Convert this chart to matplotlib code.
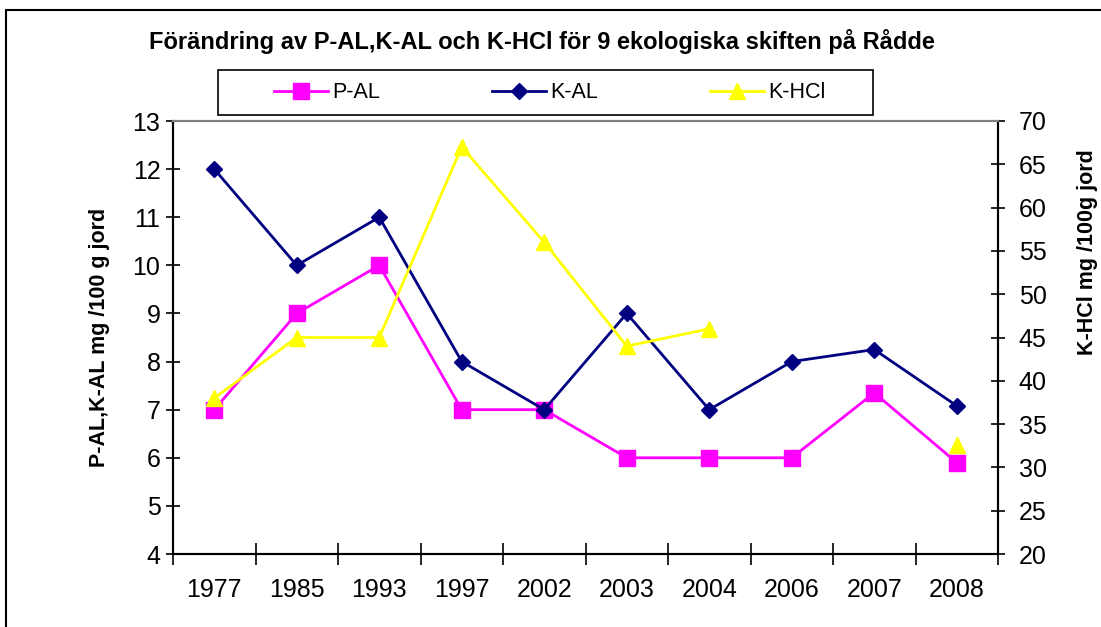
import matplotlib

matplotlib.use("Agg")
import matplotlib.pyplot as plt
import numpy as np
from matplotlib.patches import Rectangle

plt.rcParams["font.family"] = ["Liberation Sans", "DejaVu Sans"]

years = ["1977", "1985", "1993", "1997", "2002", "2003", "2004", "2006", "2007", "2008"]
p_al = [7, 9, 10, 7, 7, 6, 6, 6, 7.35, 5.9]
k_al = [12, 10, 11, 8, 7, 9, 7, 8, 8.25, 7.08]
k_hcl = [38, 45, 45, 67, 56, 44, 46, np.nan, np.nan, 32.6]

x = np.arange(len(years))
W, H = 1101, 627

fig = plt.figure(figsize=(W / 100, H / 100), dpi=100)
ax = fig.add_axes([173 / W, 1 - 554 / H, (998 - 173) / W, (554 - 121) / H])
ax2 = ax.twinx()

ax.plot(x, p_al, color="#FF00FF", lw=2, marker="s", ms=11, mec="#FF00FF", label="P-AL")
ax.plot(x, k_al, color="#000080", lw=2, marker="D", ms=8.5, mec="#000080", label="K-AL")
ax2.plot(x, k_hcl, color="#FFFF00", lw=2, marker="^", ms=12, mec="#FFFF00", label="K-HCl")

ax.set_xlim(-0.5, len(years) - 0.5)
ax.set_ylim(4, 13)
ax.set_yticks(np.arange(4, 14, 1))
ax2.set_ylim(20, 70)
ax2.set_yticks(np.arange(20, 75, 5))

ax.set_xticks(x)
ax.set_xticklabels(years)
ax.set_xticks(np.arange(-0.5, len(years), 1), minor=True)
ax.tick_params(axis="x", which="major", length=0, labelsize=18, pad=17)
ax.tick_params(axis="x", which="minor", direction="inout", length=16, width=1.2)
ax.tick_params(axis="y", direction="inout", length=10, width=1.2, labelsize=18, pad=4)
ax2.tick_params(axis="y", direction="inout", length=10, width=1.2, labelsize=18, pad=10)

for a in (ax, ax2):
    a.spines["top"].set_color("#808080")
    a.spines["top"].set_linewidth(1.5)
    for s in ("left", "right", "bottom"):
        a.spines[s].set_linewidth(1.5)

fig.text(100 / W, 1 - 337 / H, "P-AL,K-AL mg /100 g jord", rotation=90,
         fontsize=15.5, fontweight="bold", ha="center", va="center")
fig.text(1088 / W, 1 - 252 / H, "K-HCl mg /100g jord", rotation=90,
         fontsize=15.5, fontweight="bold", ha="center", va="center")

fig.text(542 / W, 1 - 42 / H,
         "Förändring av P-AL,K-AL och K-HCl för 9 ekologiska skiften på Rådde",
         fontsize=17, fontweight="bold", ha="center", va="center")

# legend box drawn separately so it keeps the reference size
fig.patches.append(Rectangle((218 / W, 1 - 115 / H), 655 / W, 45 / H,
                             transform=fig.transFigure, fill=False,
                             edgecolor="black", lw=1.2))
handles = ax.get_lines() + ax2.get_lines()
fig.legend(handles, [h.get_label() for h in handles], ncol=3,
           loc="center", bbox_to_anchor=(550 / W, 1 - 93 / H),
           fontsize=15.5, frameon=False, handlelength=2.5,
           handletextpad=0.2, columnspacing=5.2, borderaxespad=0)

# outer chart border
fig.patches.append(Rectangle((6 / W, -0.1), 1.2, 1.1 - 10 / H,
                             transform=fig.transFigure, fill=False,
                             edgecolor="black", lw=1.5))

fig.savefig("out.png", dpi=100)
